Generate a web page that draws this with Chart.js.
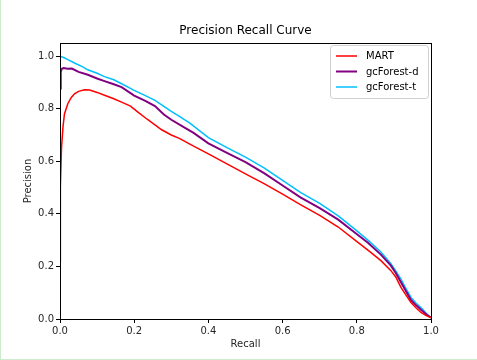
<!DOCTYPE html>
<html><head><meta charset="utf-8">
<script src="https://cdn.jsdelivr.net/npm/chart.js@4/dist/chart.umd.min.js"></script>
<style>html,body{margin:0;padding:0;background:#fff;}#wrap{width:477px;height:360px;position:relative;}</style>
</head><body><div id="wrap"><canvas id="c" width="477" height="360"></canvas></div>
<script>
const seriesNames = ['MART', 'gcForest-d', 'gcForest-t'];
const seriesColors = ['#ff0000', '#800080', '#00bfff'];
const xTicks = [0, 0.2, 0.4, 0.6, 0.8, 1.0];
const yTicks = [0, 0.2, 0.4, 0.6, 0.8, 1.0];
const xTitle = 'Recall';
const yTitle = 'Precision';
const chartTitle = 'Precision Recall Curve';

const martRecall = [0, 0.001, 0.004, 0.008, 0.012, 0.021, 0.03, 0.039, 0.05, 0.066, 0.08, 0.1, 0.12, 0.145, 0.166, 0.19, 0.21, 0.235, 0.274, 0.3, 0.323, 0.35, 0.4, 0.45, 0.5, 0.55, 0.6, 0.648, 0.7, 0.75, 0.797, 0.83, 0.865, 0.892, 0.905, 0.919, 0.933, 0.946, 0.96, 0.973, 0.987, 1.0];
const martPrecision = [0.22, 0.5, 0.65, 0.73, 0.78, 0.819, 0.842, 0.857, 0.866, 0.872, 0.871, 0.862, 0.851, 0.838, 0.825, 0.81, 0.787, 0.76, 0.72, 0.70, 0.686, 0.665, 0.628, 0.59, 0.552, 0.515, 0.475, 0.435, 0.394, 0.35, 0.298, 0.262, 0.222, 0.184, 0.16, 0.12, 0.09, 0.063, 0.042, 0.025, 0.013, 0.005];

const gcdRecall = [0, 0.002, 0.005, 0.01, 0.02, 0.032, 0.05, 0.075, 0.1, 0.12, 0.145, 0.166, 0.2, 0.23, 0.256, 0.28, 0.3, 0.337, 0.36, 0.4, 0.45, 0.5, 0.55, 0.6, 0.648, 0.7, 0.75, 0.797, 0.83, 0.865, 0.892, 0.905, 0.919, 0.933, 0.946, 0.96, 0.973, 0.987, 1.0];
const gcdPrecision = [0.877, 0.94, 0.952, 0.955, 0.952, 0.953, 0.94, 0.929, 0.915, 0.905, 0.893, 0.882, 0.85, 0.83, 0.81, 0.778, 0.758, 0.727, 0.708, 0.668, 0.632, 0.597, 0.555, 0.508, 0.463, 0.422, 0.378, 0.326, 0.29, 0.245, 0.203, 0.175, 0.14, 0.105, 0.072, 0.052, 0.035, 0.018, 0.005];

const gctRecall = [0, 0.01, 0.02, 0.039, 0.06, 0.075, 0.1, 0.12, 0.145, 0.166, 0.2, 0.23, 0.256, 0.3, 0.323, 0.35, 0.4, 0.45, 0.5, 0.55, 0.6, 0.648, 0.7, 0.75, 0.797, 0.83, 0.865, 0.892, 0.905, 0.919, 0.933, 0.946, 0.96, 0.973, 0.987, 1.0];
const gctPrecision = [1.0, 0.995, 0.988, 0.974, 0.96, 0.948, 0.935, 0.922, 0.91, 0.895, 0.87, 0.85, 0.832, 0.79, 0.77, 0.745, 0.69, 0.652, 0.616, 0.575, 0.527, 0.482, 0.44, 0.392, 0.339, 0.3, 0.255, 0.21, 0.183, 0.152, 0.115, 0.082, 0.06, 0.044, 0.022, 0.005];

const recalls = [martRecall, gcdRecall, gctRecall];
const precisions = [martPrecision, gcdPrecision, gctPrecision];
const widths = [1.5, 2, 1.5];

const FONT = '"DejaVu Sans", sans-serif';
const TXT = '#262626';

const datasets = seriesNames.map((n, i) => ({
  label: n,
  data: recalls[i].map((r, k) => ({x: r, y: precisions[i][k]})),
  borderColor: seriesColors[i],
  backgroundColor: seriesColors[i],
  borderWidth: widths[i],
  pointRadius: 0,
  tension: 0,
  fill: false
}));

const framePlugin = {
  id: 'frame',
  beforeDraw(chart) {
    const ctx = chart.ctx;
    ctx.save();
    ctx.fillStyle = '#fff';
    ctx.fillRect(0, 0, chart.width, chart.height);
    ctx.restore();
  },
  afterDraw(chart) {
    const ctx = chart.ctx;
    const a = chart.chartArea;
    ctx.save();
    ctx.strokeStyle = '#000';
    ctx.lineWidth = 1;
    ctx.strokeRect(Math.round(a.left) + 0.5, Math.round(a.top) + 0.5, Math.round(a.right - a.left), Math.round(a.bottom - a.top));
    // title
    ctx.fillStyle = '#000';
    ctx.font = '12px ' + FONT;
    ctx.textAlign = 'center';
    ctx.textBaseline = 'middle';
    ctx.fillText(chartTitle, (a.left + a.right) / 2, 31);
    // axis titles
    ctx.font = '10px ' + FONT;
    ctx.fillStyle = TXT;
    ctx.fillText(xTitle, (a.left + a.right) / 2, 344);
    ctx.save();
    ctx.translate(28, (a.top + a.bottom) / 2);
    ctx.rotate(-Math.PI / 2);
    ctx.fillText(yTitle, 0, 0);
    ctx.restore();
    // legend
    const lx = 330.5, ly = 45.5, lw = 98, lh = 53;
    ctx.beginPath();
    if (ctx.roundRect) ctx.roundRect(lx, ly, lw, lh, 3); else ctx.rect(lx, ly, lw, lh);
    ctx.fillStyle = 'rgba(255,255,255,0.8)';
    ctx.fill();
    ctx.strokeStyle = '#d0d0d0';
    ctx.lineWidth = 1;
    ctx.stroke();
    ctx.font = '10px ' + FONT;
    ctx.textAlign = 'left';
    const rows = [56, 71.5, 87];
    chart.data.datasets.forEach((d, i) => {
      ctx.strokeStyle = d.borderColor;
      ctx.lineWidth = d.borderWidth;
      ctx.beginPath();
      ctx.moveTo(336, rows[i]);
      ctx.lineTo(357, rows[i]);
      ctx.stroke();
      ctx.fillStyle = '#000';
      ctx.fillText(d.label, 366, rows[i] + 0.5);
    });
    ctx.fillStyle = '#cdeccd';
    ctx.fillRect(0, 0, 1, chart.height);
    ctx.fillRect(0, chart.height - 1, chart.width, 1);
    ctx.restore();
  }
};

new Chart(document.getElementById('c'), {
  type: 'line',
  data: { datasets },
  options: {
    responsive: false,
    animation: false,
    devicePixelRatio: 1,
    layout: { padding: { top: 43, right: 46, left: 0, bottom: 0 } },
    plugins: { legend: { display: false }, title: { display: false }, tooltip: { enabled: false } },
    scales: {
      x: {
        type: 'linear', min: 0, max: 1,
        afterFit: s => { s.height = 41; },
        afterBuildTicks: s => { s.ticks = xTicks.map(v => ({value: v})); },
        ticks: { color: TXT, font: { family: FONT, size: 10 }, padding: 2, maxRotation: 0, callback: v => v.toFixed(1) },
        grid: { drawOnChartArea: false, drawTicks: true, tickLength: 4, color: '#000' },
        border: { display: true, color: '#000' }
      },
      y: {
        type: 'linear', min: 0, max: 1.05,
        afterFit: s => { s.width = 60; },
        afterBuildTicks: s => { s.ticks = yTicks.map(v => ({value: v})); },
        ticks: { color: TXT, font: { family: FONT, size: 10 }, padding: 2, callback: v => v.toFixed(1) },
        grid: { drawOnChartArea: false, drawTicks: true, tickLength: 4, color: '#000' },
        border: { display: true, color: '#000' }
      }
    }
  },
  plugins: [framePlugin]
});
</script>
</body></html>
